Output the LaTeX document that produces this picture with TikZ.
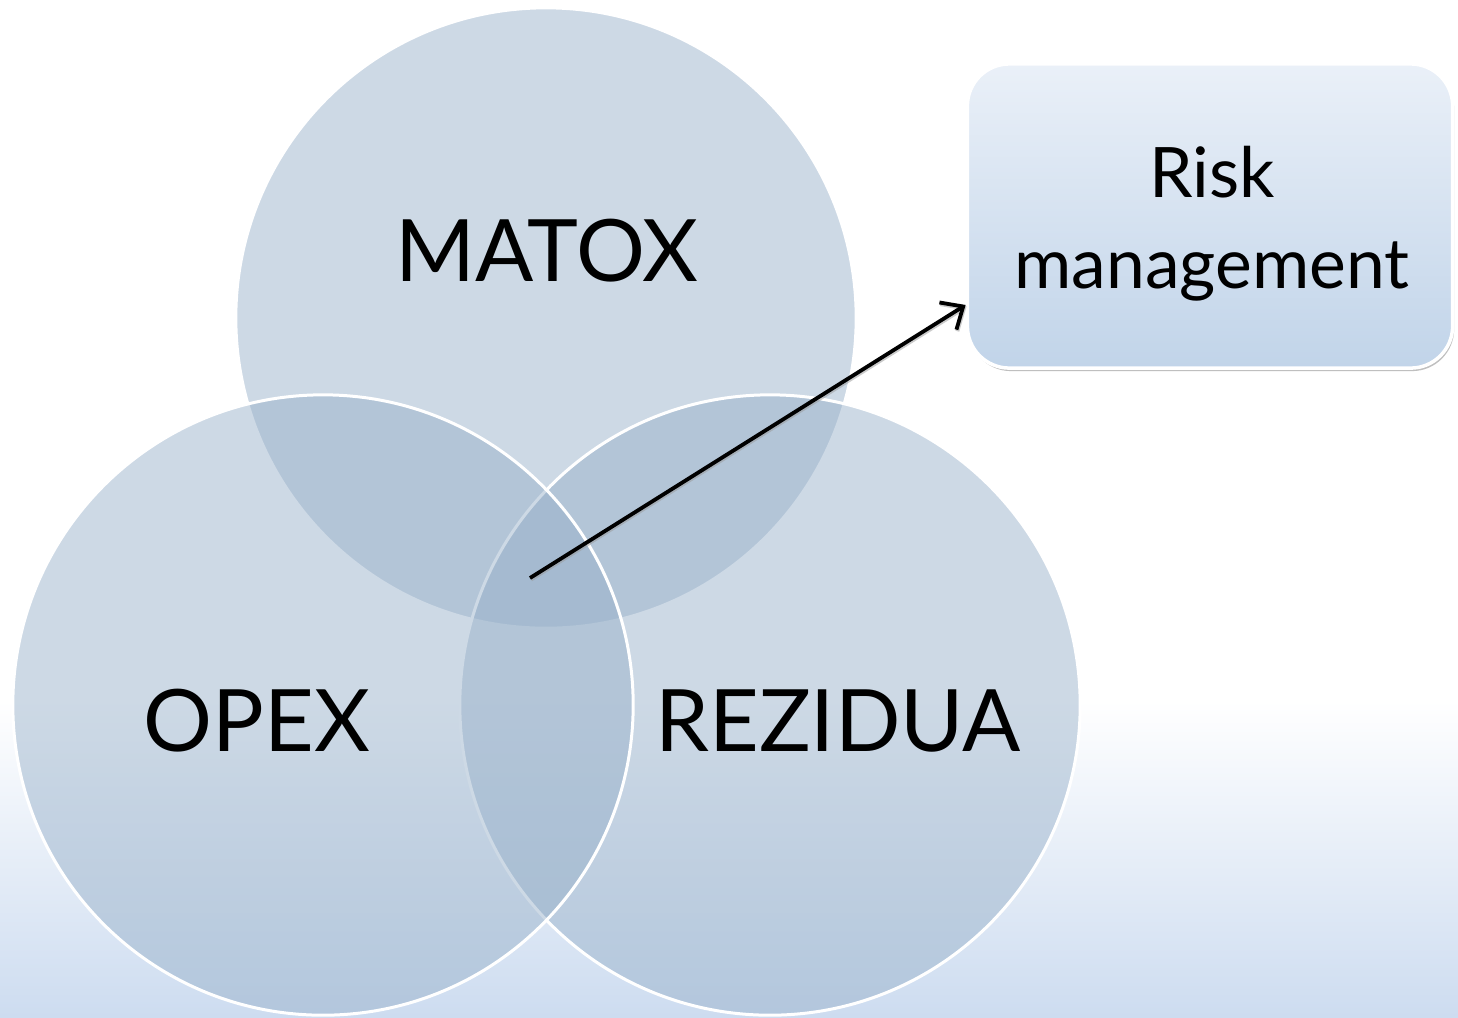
\documentclass[tikz,border=0pt]{standalone}
\usepackage{fontspec}
\setmainfont{Lato}
\usetikzlibrary{shadows,arrows.meta}
\definecolor{circ}{RGB}{151,176,201}
\definecolor{bgbot}{RGB}{205,220,240}
\definecolor{boxtop}{RGB}{234,240,248}
\definecolor{boxbot}{RGB}{193,212,233}
\begin{document}
\begin{tikzpicture}[x=0.01cm,y=-0.01cm,
  venn/.style={circle, minimum size=6.2cm, inner sep=0pt, fill=circ, fill opacity=0.48, draw=white, line width=0.03cm},
  lbl/.style={font=\fontsize{24.5}{28}\selectfont, text=black, inner sep=0pt},
  riskbox/.style={rectangle, rounded corners=0.42cm, minimum width=4.85cm, minimum height=3.04cm,
    top color=boxtop, bottom color=boxbot, draw=white, line width=0.035cm,
    drop shadow={shadow xshift=0.015cm, shadow yshift=-0.03cm, opacity=0.55, fill=black!45}},
  risktext/.style={align=center, inner sep=0pt, font=\fontsize{19.8}{25.9}\selectfont},
  conn/.style={-{Straight Barb[length=0.18cm,width=0.32cm]}, line width=0.038cm, black,
    preaction={draw=black!40, opacity=0.5, line width=0.04cm, transform canvas={xshift=0.01cm, yshift=-0.015cm}}}]
  \fill[white] (0,0) rectangle (1458,1017);
  \shade[top color=white, bottom color=bgbot] (0,700) rectangle (1458,1017);
  \node[venn] (matox) at (546,318) {};
  \node[venn] (rezidua) at (770,705) {};
  \node[venn] (opex) at (323,705) {};
  \node[lbl] (tmatox) at (547,251) {MATOX};
  \node[lbl] (topex) at (257,721) {OPEX};
  \node[lbl] (trezidua) at (838,721) {REZIDUA};
  \node[riskbox] (risk) at (1210,216) {};
  \node[risktext] (trisk) at (1212,224) {Risk\\management};
  \coordinate (start) at (530,578);
  \draw[conn] (start) -- (risk.200);
\end{tikzpicture}
\end{document}
